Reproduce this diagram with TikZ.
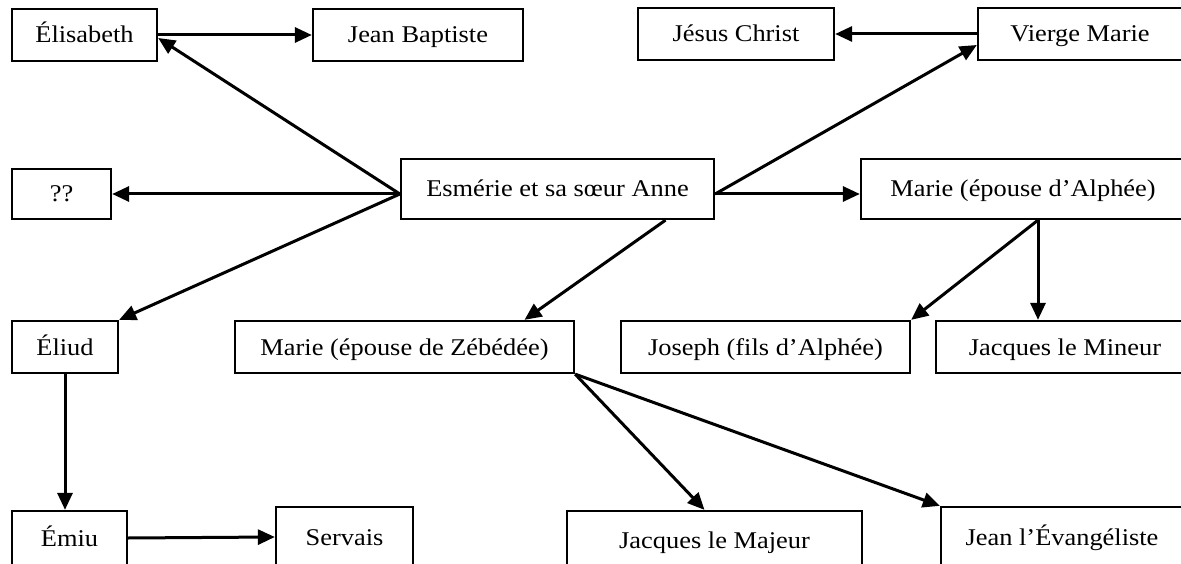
\documentclass[tikz,border=0pt]{standalone}
\usepackage{fontspec}
\setmainfont{Liberation Serif}
\usetikzlibrary{arrows.meta}
\newcommand{\wt}[1]{\scalebox{1.1}[1]{#1}}
\tikzset{
	box/.style={draw, line width=2.3pt, font=\fontsize{24}{28}\selectfont, inner sep=2pt, text height=20pt, text depth=4pt},
	link/.style={line width=3pt, -{Triangle[length=17pt,width=15pt]}}
}
\begin{document}
\begin{tikzpicture}[x=1pt, y=-1pt]
		\useasboundingbox (0,0) rectangle (1181,564);
		\node[box, minimum width=145pt, minimum height=52pt] (eli) at (84.5,35) {\wt{Élisabeth}};
		\node[box, minimum width=210pt, minimum height=52pt] (jb) at (418,35) {\wt{Jean Baptiste}};
		\node[box, minimum width=196pt, minimum height=52pt] (jc) at (736,34) {\wt{Jésus Christ}};
		\node[box, minimum width=204pt, minimum height=52pt] (vm) at (1080,34) {\wt{Vierge Marie}};

		\node[box, minimum width=99pt, minimum height=50pt] (qq) at (61.5,194) {\wt{??}};
		\node[box, minimum width=313pt, minimum height=60pt] (esm) at (557.5,189) {\wt{Esmérie et sa sœur Anne}};
		\node[box, minimum width=324pt, minimum height=60pt] (ma) at (1023,189) {\wt{Marie (épouse d’Alphée)}};

		\node[box, minimum width=106pt, minimum height=52pt] (eliud) at (65,347) {\wt{Éliud}};
		\node[box, minimum width=339pt, minimum height=52pt] (mz) at (404.5,347) {\wt{Marie (épouse de Zébédée)}};
		\node[box, minimum width=289pt, minimum height=52pt] (jos) at (765.5,347) {\wt{Joseph (fils d’Alphée)}};
		\node[box, minimum width=258pt, minimum height=52pt] (jm) at (1065,347) {\wt{Jacques le Mineur}};

		\node[box, minimum width=115pt, minimum height=54pt] (emiu) at (69.5,538) {\wt{Émiu}};
		\node[box, minimum width=137pt, minimum height=60pt] (serv) at (344.5,537) {\wt{Servais}};
		\node[box, minimum width=295pt, minimum height=58pt] (jmaj) at (714.5,540) {\wt{Jacques le Majeur}};
		\node[box, minimum width=242pt, minimum height=60pt] (jev) at (1062,537) {\wt{Jean l’Évangéliste}};

		\coordinate (esmL) at ([yshift=-5pt]esm.west);
		\coordinate (esmR) at ([yshift=-5pt]esm.east);
		\coordinate (esmB) at ([xshift=108pt]esm.south);
		\coordinate (maB) at ([xshift=15pt]ma.south);

		\draw[link] (eli.east) -- (jb.west);
		\draw[link] (vm.west) -- (jc.east);
		\draw[link] (esmL) -- ([yshift=-3pt]eli.east);
		\draw[link] (esmL) -- (qq.east);
		\draw[link] (esmL) -- (eliud.north east);
		\draw[link] (esmR) -- ([yshift=-11pt]vm.west);
		\draw[link] (esmR) -- ([yshift=-5pt]ma.west);
		\draw[link] (esmB) -- ([xshift=120pt]mz.north);
		\draw[link] (maB) -- (jos.north east);
		\draw[link] (maB) -- (maB |- jm.north);
		\draw[link] (eliud.south) -- (eliud.south |- emiu.north);
		\draw[link] (emiu.east) -- (serv.west);
		\draw[link] (mz.south east) -- ([xshift=-10pt]jmaj.north);
		\draw[link] (mz.south east) -- (jev.north west);
	\end{tikzpicture}
\end{document}
